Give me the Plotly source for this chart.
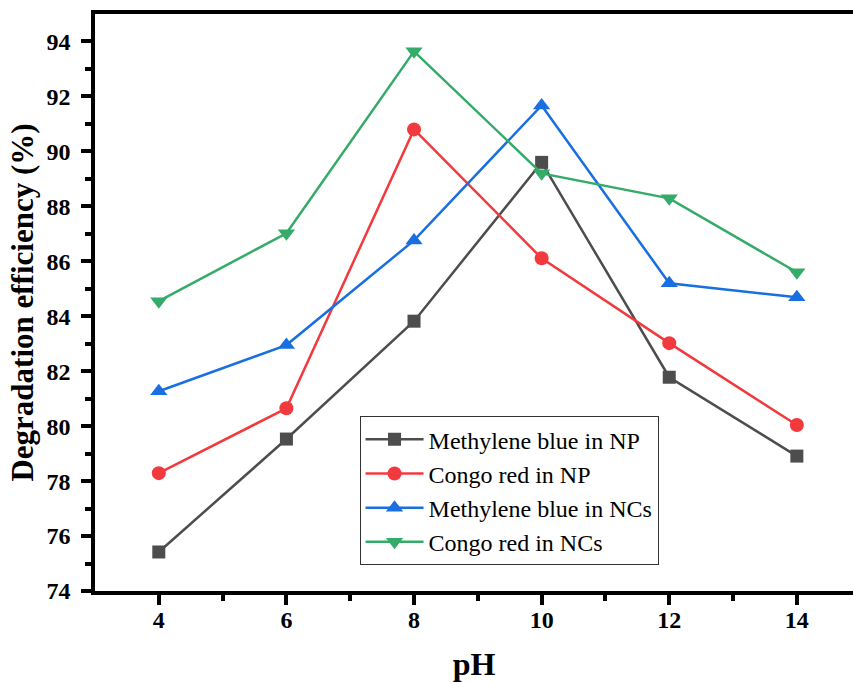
import plotly.graph_objects as go

ph = [4, 6, 8, 10, 12, 14]
mb_np = [75.42, 79.53, 83.82, 89.60, 81.78, 78.91]
cr_np = [78.29, 80.65, 90.80, 86.11, 83.02, 80.04]
mb_nc = [81.27, 82.95, 86.76, 91.67, 85.20, 84.69]
cr_nc = [84.55, 87.02, 93.64, 89.20, 88.29, 85.60]

series = [
    ("Methylene blue in NP", mb_np, "#4d4d4d", "square", 13),
    ("Congo red in NP", cr_np, "#f23a3e", "circle", 14),
    ("Methylene blue in NCs", mb_nc, "#1a6fe0", "triangle-up", 15),
    ("Congo red in NCs", cr_nc, "#35ab69", "triangle-down", 15),
]

SERIF = "Liberation Serif"

fig = go.Figure()
for name, vals, col, sym, msz in series:
    fig.add_trace(go.Scatter(
        x=ph, y=vals, name=name, mode="lines+markers",
        line=dict(color=col, width=2.5),
        marker=dict(symbol=sym, size=msz, color=col),
    ))

fig.update_layout(
    width=853, height=682,
    margin=dict(l=95, r=0, t=14, b=91),
    paper_bgcolor="white", plot_bgcolor="white",
    font=dict(family=SERIF, color="black", size=24),
    showlegend=True,
    legend=dict(
        x=0.349, y=0.303, xanchor="left", yanchor="top",
        bordercolor="#333333", borderwidth=1, bgcolor="white",
        font=dict(family=SERIF, size=24, color="black"),
        tracegroupgap=0, itemwidth=58,
    ),
    xaxis=dict(
        range=[3, 14.88], tickvals=[4, 6, 8, 10, 12, 14],
        ticks="outside", ticklen=10, tickwidth=3.5, tickcolor="black",
        showline=True, linewidth=3.5, linecolor="black", mirror=True,
        showgrid=False, zeroline=False, ticklabelstandoff=-6, automargin=False,
        tickfont=dict(family=SERIF, size=24, color="black", weight="bold"),
        minor=dict(tickvals=[5, 7, 9, 11, 13], ticks="outside", ticklen=6, tickwidth=3.5, tickcolor="black", showgrid=False),
        title=dict(text="pH", font=dict(family=SERIF, size=32, color="black", weight="bold"), standoff=23),
    ),
    yaxis=dict(
        range=[74, 95], tickvals=[74, 76, 78, 80, 82, 84, 86, 88, 90, 92, 94],
        ticks="outside", ticklen=10, tickwidth=3.5, tickcolor="black",
        showline=True, linewidth=3.5, linecolor="black",
        showgrid=False, zeroline=False, ticklabelstandoff=6, automargin=False,
        tickfont=dict(family=SERIF, size=24, color="black", weight="bold"),
        minor=dict(tickvals=[75, 77, 79, 81, 83, 85, 87, 89, 91, 93], ticks="outside", ticklen=6, tickwidth=3.5, tickcolor="black", showgrid=False),
        title=dict(text="Degradation efficiency (%)", font=dict(family=SERIF, size=31, color="black", weight="bold"), standoff=5),
    ),
)

fig.write_html("out.html")
